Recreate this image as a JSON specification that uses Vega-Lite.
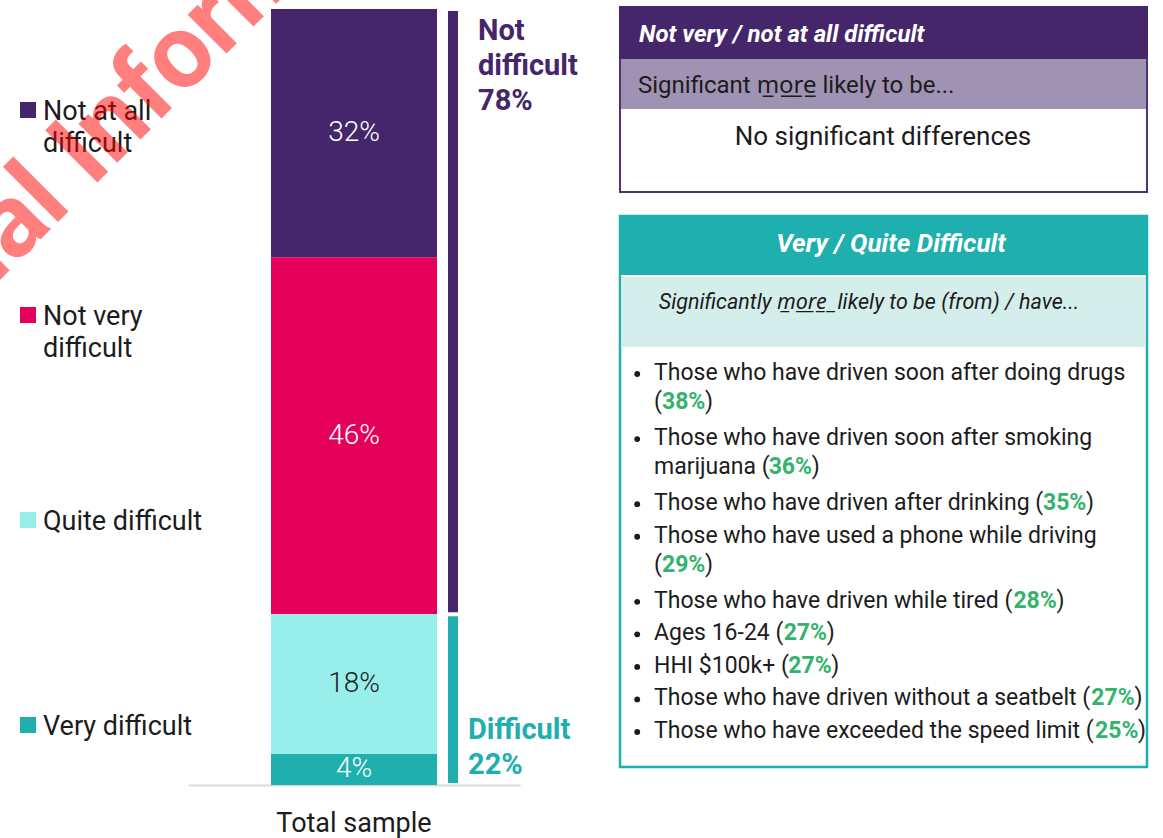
{
  "$schema": "https://vega.github.io/schema/vega-lite/v6.json",
  "width": 1163,
  "height": 838,
  "autosize": {"type": "fit", "contains": "padding"},
  "padding": 0,
  "background": "white",
  "config": {"view": {"stroke": null}, "font": "Roboto"},
  "datasets": {
    "responses": [
      {"group": "Total sample", "response": "Not at all difficult", "level": 4, "pct": 32},
      {"group": "Total sample", "response": "Not very difficult", "level": 3, "pct": 46},
      {"group": "Total sample", "response": "Quite difficult", "level": 2, "pct": 18},
      {"group": "Total sample", "response": "Very difficult", "level": 1, "pct": 4}
    ],
    "brackets": [
      {"group": "Total sample", "bracket": "Not difficult", "from": 22, "to": 100, "total": 78},
      {"group": "Total sample", "bracket": "Difficult", "from": 0, "to": 22, "total": 22}
    ],
    "boxes": [
      {"box": "Not very / not at all difficult", "subtitle": "Significant m\u0332o\u0332r\u0332e\u0332 likely to be...", "body": "No significant differences"},
      {"box": "Very / Quite Difficult", "subtitle": "Significantly m\u0332o\u0332r\u0332e\u0332 \u0332 likely to be (from) / have...", "body": ""}
    ],
    "list": [
      {"line": 1, "text": "Those who have driven soon after doing drugs", "pct": null, "bullet": true, "wrap": 0},
      {"line": 2, "text": "", "pct": 38, "bullet": false, "wrap": 1},
      {"line": 3, "text": "Those who have driven soon after smoking", "pct": null, "bullet": true, "wrap": 0},
      {"line": 4, "text": "marijuana", "pct": 36, "bullet": false, "wrap": 1},
      {"line": 5, "text": "Those who have driven after drinking", "pct": 35, "bullet": true, "wrap": 0},
      {"line": 6, "text": "Those who have used a phone while driving", "pct": null, "bullet": true, "wrap": 0},
      {"line": 7, "text": "", "pct": 29, "bullet": false, "wrap": 1},
      {"line": 8, "text": "Those who have driven while tired", "pct": 28, "bullet": true, "wrap": 0},
      {"line": 9, "text": "Ages 16-24", "pct": 27, "bullet": true, "wrap": 0},
      {"line": 10, "text": "HHI $100k+", "pct": 27, "bullet": true, "wrap": 0},
      {"line": 11, "text": "Those who have driven without a seatbelt", "pct": 27, "bullet": true, "wrap": 0},
      {"line": 12, "text": "Those who have exceeded the speed limit", "pct": 25, "bullet": true, "wrap": 0}
    ],
    "watermark": [
      {"part": "Confidential", "side": "before"},
      {"part": "Information", "side": "after"}
    ]
  },
  "resolve": {"scale": {"y": "independent", "x": "independent"}},
  "layer": [
    {
      "data": {"name": "responses"},
      "layer": [
        {
          "mark": {"type": "bar"},
          "encoding": {
            "x": {
              "field": "group", "type": "nominal",
              "scale": {"range": [188, 520], "paddingInner": 0, "paddingOuter": 0.5},
              "axis": {"title": null, "ticks": false, "domainColor": "#D9D9D9", "domainWidth": 2, "labelFont": "Roboto", "labelFontSize": 27, "labelColor": "#1c1c1c", "labelPadding": 25, "labelAngle": 0, "minExtent": 53, "maxExtent": 53}
            },
            "y": {"field": "pct", "type": "quantitative", "stack": "zero", "scale": {"domain": [0, 100], "range": [785, 9]}, "axis": null},
            "color": {
              "field": "response", "type": "nominal",
              "scale": {"domain": ["Not at all difficult", "Not very difficult", "Quite difficult", "Very difficult"], "range": ["#45266A", "#E5005A", "#98EEEB", "#1FAFAD"]},
              "legend": null
            },
            "order": {"field": "level", "type": "quantitative"}
          }
        },
        {
          "transform": [
            {"stack": "pct", "groupby": ["group"], "sort": [{"field": "level", "order": "ascending"}], "as": ["lo", "hi"]},
            {"calculate": "(datum.lo + datum.hi) / 2", "as": "mid"},
            {"calculate": "datum.pct + '%'", "as": "label"}
          ],
          "mark": {"type": "text", "font": "Roboto", "fontSize": 28, "fontWeight": 300, "baseline": "middle", "align": "center"},
          "encoding": {
            "x": {"field": "group", "type": "nominal"},
            "y": {"field": "mid", "type": "quantitative"},
            "text": {"field": "label"},
            "color": {"condition": {"test": "datum.response == 'Quite difficult'", "value": "#1c1c1c"}, "value": "#ffffff"}
          }
        },
        {
          "data": {"name": "brackets"},
          "mark": {"type": "rule", "strokeWidth": 10, "xOffset": 99, "yOffset": 2, "y2Offset": -2},
          "encoding": {
            "x": {"field": "group", "type": "nominal"},
            "y": {"field": "to", "type": "quantitative"},
            "y2": {"field": "from"},
            "color": {"condition": {"test": "datum.bracket == 'Difficult'", "value": "#20AFAE"}, "value": "#45266A"}
          }
        },
        {
          "data": {"name": "brackets"},
          "transform": [
            {"filter": "datum.bracket == 'Not difficult'"},
            {"calculate": "'Not\\ndifficult\\n' + datum.total + '%'", "as": "label"}
          ],
          "mark": {"type": "text", "align": "left", "baseline": "top", "font": "Roboto", "fontSize": 29, "fontWeight": "bold", "lineBreak": "\n", "lineHeight": 35, "xOffset": 124, "yOffset": 8, "color": "#45266A"},
          "encoding": {
            "x": {"field": "group", "type": "nominal"},
            "y": {"field": "to", "type": "quantitative"},
            "text": {"field": "label"}
          }
        },
        {
          "data": {"name": "brackets"},
          "transform": [
            {"filter": "datum.bracket == 'Difficult'"},
            {"calculate": "datum.bracket + '\\n' + datum.total + '%'", "as": "label"}
          ],
          "mark": {"type": "text", "align": "left", "baseline": "top", "font": "Roboto", "fontSize": 29, "fontWeight": "bold", "lineBreak": "\n", "lineHeight": 35, "xOffset": 114, "yOffset": 102, "color": "#20AFAE"},
          "encoding": {
            "x": {"field": "group", "type": "nominal"},
            "y": {"field": "to", "type": "quantitative"},
            "text": {"field": "label"}
          }
        }
      ]
    },
    {
      "data": {"name": "responses"},
      "transform": [
        {"calculate": "datum.level >= 3 ? replace(datum.response, ' difficult', '\\ndifficult') : datum.response", "as": "legendLabel"}
      ],
      "encoding": {
        "y": {"field": "response", "type": "nominal", "scale": {"type": "point", "domain": ["Not at all difficult", "Not very difficult", "Quite difficult", "Very difficult"], "range": [110, 725], "padding": 0}, "axis": null}
      },
      "layer": [
        {
          "mark": {"type": "point", "shape": "square", "filled": true, "size": 256, "opacity": 1, "strokeWidth": 0},
          "encoding": {"x": {"value": 28}, "color": {"field": "response", "type": "nominal", "legend": null}}
        },
        {
          "mark": {"type": "text", "align": "left", "baseline": "alphabetic", "dy": 10, "font": "Roboto", "fontSize": 27, "lineBreak": "\n", "lineHeight": 32, "color": "#1c1c1c"},
          "encoding": {"x": {"value": 43}, "text": {"field": "legendLabel"}}
        }
      ]
    },
    {
      "data": {"name": "boxes"},
      "transform": [{"filter": "datum.box == 'Not very / not at all difficult'"}],
      "layer": [
        {"mark": {"type": "rect", "fill": "white", "stroke": "#50307A", "strokeWidth": 2}, "encoding": {"x": {"value": 620}, "x2": {"value": 1147}, "y": {"value": 7}, "y2": {"value": 192}}},
        {"mark": {"type": "rect", "fill": "#45266A"}, "encoding": {"x": {"value": 619}, "x2": {"value": 1148}, "y": {"value": 6}, "y2": {"value": 59}}},
        {"mark": {"type": "rect", "fill": "#A092B3"}, "encoding": {"x": {"value": 621}, "x2": {"value": 1146}, "y": {"value": 59}, "y2": {"value": 109}}},
        {"mark": {"type": "text", "align": "left", "baseline": "middle", "font": "Roboto", "fontSize": 24, "fontWeight": "bold", "fontStyle": "italic", "color": "white"}, "encoding": {"x": {"value": 639}, "y": {"value": 35}, "text": {"field": "box"}}},
        {"mark": {"type": "text", "align": "left", "baseline": "middle", "font": "Roboto, 'Noto Sans', 'DejaVu Sans', sans-serif", "fontSize": 24, "color": "#1c1c1c"}, "encoding": {"x": {"value": 638}, "y": {"value": 86}, "text": {"field": "subtitle"}}},
        {"mark": {"type": "text", "align": "center", "baseline": "middle", "font": "Roboto", "fontSize": 26, "color": "#1c1c1c"}, "encoding": {"x": {"value": 883}, "y": {"value": 137}, "text": {"field": "body"}}}
      ]
    },
    {
      "data": {"name": "boxes"},
      "transform": [{"filter": "datum.box == 'Very / Quite Difficult'"}],
      "layer": [
        {"mark": {"type": "rect", "fill": "white", "stroke": "#1FAFAE", "strokeWidth": 2.5}, "encoding": {"x": {"value": 620}, "x2": {"value": 1147}, "y": {"value": 216}, "y2": {"value": 767}}},
        {"mark": {"type": "rect", "fill": "#1FAFAE"}, "encoding": {"x": {"value": 619}, "x2": {"value": 1148}, "y": {"value": 215}, "y2": {"value": 275}}},
        {"mark": {"type": "rect", "fill": "#D4EEEC"}, "encoding": {"x": {"value": 621.5}, "x2": {"value": 1145.5}, "y": {"value": 277}, "y2": {"value": 347}}},
        {"mark": {"type": "text", "align": "center", "baseline": "middle", "font": "Roboto", "fontSize": 26, "fontWeight": "bold", "fontStyle": "italic", "color": "white"}, "encoding": {"x": {"value": 891}, "y": {"value": 244}, "text": {"field": "box"}}},
        {"mark": {"type": "text", "align": "center", "baseline": "middle", "font": "Roboto, 'Noto Sans', 'DejaVu Sans', sans-serif", "fontSize": 21.5, "fontStyle": "italic", "color": "#1c1c1c"}, "encoding": {"x": {"value": 869}, "y": {"value": 303}, "text": {"field": "subtitle"}}}
      ]
    },
    {
      "data": {"name": "list"},
      "transform": [
        {"calculate": "datum.pct == null ? '' : ((datum.text == '' ? '' : ' ') + '(')", "as": "open"},
        {"calculate": "datum.text + datum.open", "as": "prefix"},
        {"calculate": "datum.pct == null ? '' : datum.pct + '%'", "as": "pctLabel"},
        {"calculate": "0.243*(length(datum.prefix)-length(replace(datum.prefix,/[ilj]/g,''))) + 0.248*(length(datum.prefix)-length(replace(datum.prefix,/ /g,''))) + 0.337*(length(datum.prefix)-length(replace(datum.prefix,/[tfr]/g,''))) + 0.345*(length(datum.prefix)-length(replace(datum.prefix,/[()]/g,''))) + 0.276*(length(datum.prefix)-length(replace(datum.prefix,/-/g,''))) + 0.271*(length(datum.prefix)-length(replace(datum.prefix,/I/g,''))) + 0.49*(length(datum.prefix)-length(replace(datum.prefix,/[vyxzk]/g,''))) + 0.751*(length(datum.prefix)-length(replace(datum.prefix,/w/g,''))) + 0.876*(length(datum.prefix)-length(replace(datum.prefix,/m/g,''))) + 0.713*(length(datum.prefix)-length(replace(datum.prefix,/H/g,''))) + 0.653*(length(datum.prefix)-length(replace(datum.prefix,/A/g,''))) + 0.597*(length(datum.prefix)-length(replace(datum.prefix,/T/g,''))) + 0.561*(length(datum.prefix)-length(replace(datum.prefix,/[0-9$]/g,''))) + 0.567*(length(datum.prefix)-length(replace(datum.prefix,/[+]/g,''))) + 0.53*(length(datum.prefix)-length(replace(datum.prefix,/[eacs]/g,''))) + 0.551*(length(datum.prefix)-length(replace(datum.prefix,/[hnu]/g,''))) + 0.563*(length(datum.prefix)-length(replace(datum.prefix,/[bdgpq]/g,''))) + 0.57*(length(datum.prefix)-length(replace(datum.prefix,/o/g,'')))", "as": "prefixEm"},
        {"calculate": "datum.prefixEm + 1.87", "as": "closeEm"},
        {"calculate": "datum.line - 0.1 * datum.wrap", "as": "pos"}
      ],
      "encoding": {
        "y": {"field": "pos", "type": "quantitative", "scale": {"domain": [1, 12], "range": [373, 731]}, "axis": null}
      },
      "layer": [
        {
          "transform": [{"filter": "datum.bullet"}],
          "mark": {"type": "circle", "size": 34, "opacity": 1, "color": "#1c1c1c", "yOffset": 1},
          "encoding": {"x": {"datum": -0.73, "type": "quantitative", "scale": {"domain": [0, 20], "range": [654, 1114]}, "axis": null}}
        },
        {
          "mark": {"type": "text", "align": "left", "baseline": "middle", "font": "Roboto", "fontSize": 23, "color": "#1c1c1c"},
          "encoding": {"x": {"datum": 0, "type": "quantitative"}, "text": {"field": "prefix"}}
        },
        {
          "transform": [{"filter": "datum.pct != null"}],
          "mark": {"type": "text", "align": "left", "baseline": "middle", "font": "Roboto", "fontSize": 23, "fontWeight": "bold", "color": "#33B36B"},
          "encoding": {"x": {"field": "prefixEm", "type": "quantitative"}, "text": {"field": "pctLabel"}}
        },
        {
          "transform": [{"filter": "datum.pct != null"}],
          "mark": {"type": "text", "align": "left", "baseline": "middle", "font": "Roboto", "fontSize": 23, "color": "#1c1c1c"},
          "encoding": {"x": {"field": "closeEm", "type": "quantitative"}, "text": {"value": ")"}}
        }
      ]
    },
    {
      "data": {"name": "watermark"},
      "transform": [{"filter": "datum.side == 'after'"}],
      "mark": {"type": "text", "angle": -45, "align": "left", "baseline": "alphabetic", "font": "Roboto", "fontSize": 104, "fontWeight": "bold", "color": "#FF0000", "opacity": 0.5, "clip": true},
      "encoding": {"x": {"value": 92}, "y": {"value": 188}, "text": {"field": "part"}}
    },
    {
      "data": {"name": "watermark"},
      "transform": [{"filter": "datum.side == 'before'"}],
      "mark": {"type": "text", "angle": -45, "align": "right", "baseline": "alphabetic", "font": "Roboto", "fontSize": 104, "fontWeight": "bold", "color": "#FF0000", "opacity": 0.5, "clip": true},
      "encoding": {"x": {"value": 73}, "y": {"value": 207}, "text": {"field": "part"}}
    }
  ]
}
